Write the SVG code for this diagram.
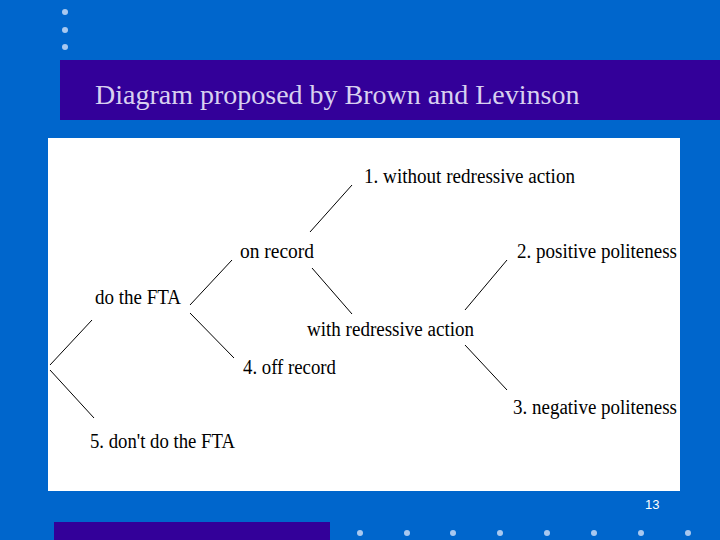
<svg xmlns="http://www.w3.org/2000/svg" width="720" height="540" viewBox="0 0 720 540">
<style>
.d{fill:#a8c8f0}
.t{font-family:"Liberation Serif",serif;font-size:20px;fill:#000}
.c line{stroke:#000;stroke-width:1}
</style>
<rect width="720" height="540" fill="#0066cc"/>
<circle class="d" cx="65" cy="12" r="3"/><circle class="d" cx="65" cy="30" r="3"/><circle class="d" cx="65" cy="47" r="3"/>
<rect x="60" y="60" width="660" height="60" fill="#330099"/>
<text x="95" y="104" font-family="Liberation Serif,serif" font-size="28" fill="#d8d0f0">Diagram proposed by Brown and Levinson</text>
<rect x="48" y="138" width="632" height="353" fill="#fff"/>
<g class="c">
<line x1="50" y1="365" x2="92" y2="320"/>
<line x1="50" y1="370" x2="94" y2="418"/>
<line x1="190" y1="305" x2="232" y2="260"/>
<line x1="190" y1="313" x2="234" y2="358"/>
<line x1="310" y1="232" x2="352" y2="185"/>
<line x1="312" y1="268" x2="352" y2="314"/>
<line x1="465" y1="310" x2="507" y2="260"/>
<line x1="465" y1="345" x2="507" y2="390"/>
</g>
<g id="n1"><text class="t" x="364" y="183" textLength="211" lengthAdjust="spacingAndGlyphs">1. without redressive action</text></g>
<g id="n2"><text class="t" x="240" y="258" textLength="74" lengthAdjust="spacingAndGlyphs">on record</text></g>
<g id="n3"><text class="t" x="517" y="258" textLength="160" lengthAdjust="spacingAndGlyphs">2. positive politeness</text></g>
<g id="n4"><text class="t" x="95" y="304" textLength="86" lengthAdjust="spacingAndGlyphs">do the FTA</text></g>
<g id="n5"><text class="t" x="307" y="336" textLength="167" lengthAdjust="spacingAndGlyphs">with redressive action</text></g>
<g id="n6"><text class="t" x="243" y="374" textLength="93" lengthAdjust="spacingAndGlyphs">4. off record</text></g>
<g id="n7"><text class="t" x="513" y="414" textLength="164" lengthAdjust="spacingAndGlyphs">3. negative politeness</text></g>
<g id="n8"><text class="t" x="90" y="448" textLength="145" lengthAdjust="spacingAndGlyphs">5. don't do the FTA</text></g>
<text x="645" y="509" font-family="Liberation Sans,sans-serif" font-size="13" fill="#fff">13</text>
<rect x="54" y="522" width="276" height="18" fill="#330099"/>
<g class="d"><circle cx="360" cy="533" r="3"/><circle cx="407" cy="533" r="3"/><circle cx="453" cy="533" r="3"/><circle cx="500" cy="533" r="3"/><circle cx="547" cy="533" r="3"/><circle cx="594" cy="533" r="3"/><circle cx="641" cy="533" r="3"/><circle cx="688" cy="533" r="3"/></g>
</svg>
